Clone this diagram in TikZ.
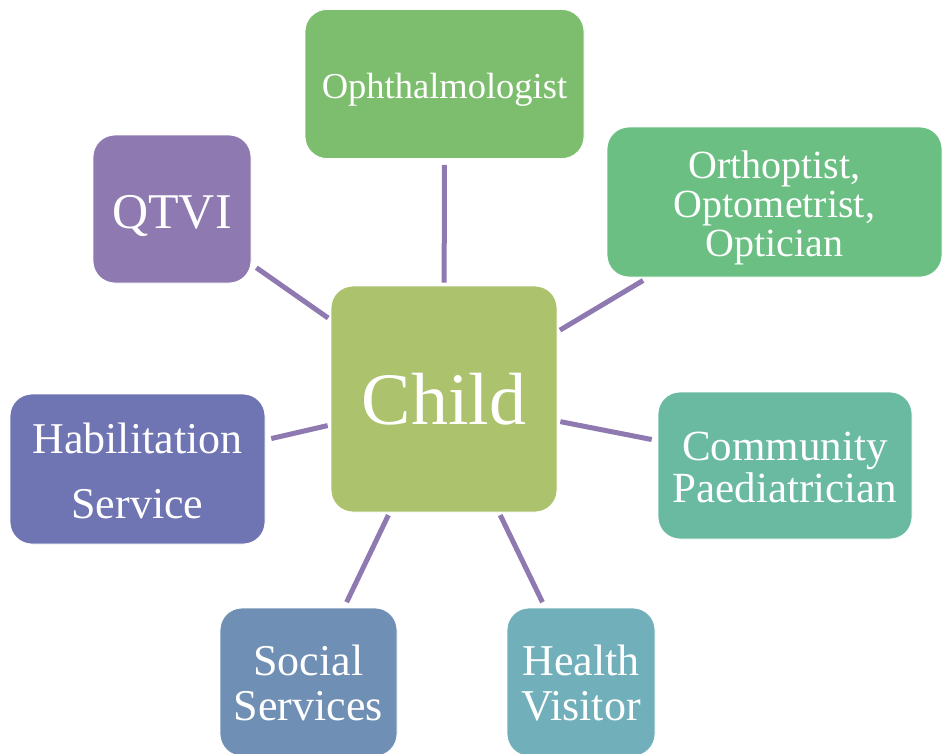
\documentclass[tikz,border=0pt]{standalone}
\usepackage{fontspec}
\setmainfont{Liberation Serif}
\definecolor{cOph}{HTML}{7DBE6E}
\definecolor{cOrt}{HTML}{6BBF82}
\definecolor{cQtv}{HTML}{8E79B1}
\definecolor{cChi}{HTML}{ACC26C}
\definecolor{cHab}{HTML}{6F74B2}
\definecolor{cCom}{HTML}{6ABAA2}
\definecolor{cSoc}{HTML}{708FB4}
\definecolor{cHea}{HTML}{71AFBA}
\definecolor{cLine}{HTML}{8E79B1}
\newcommand{\lowerby}[2]{\raisebox{-#1}[\height][\depth]{\begin{tabular}{@{}c@{}}#2\end{tabular}}}
\begin{document}
\begin{tikzpicture}[x=1pt,y=-1pt,
  box/.style={rounded corners=22pt, draw=white, line width=0.8pt, text=white,
    inner sep=0pt},
  link/.style={draw=cLine, line width=5pt, shorten <=3pt, shorten >=6pt}]
\useasboundingbox (0,0) rectangle (943,753);
\begin{scope}
\clip (0,0) rectangle (943,753);
\node[box, fill=cChi, minimum width=226pt, minimum height=226pt,
  font=\fontsize{74}{80}\selectfont] (child) at (444,399) {\lowerby{9pt}{Child}};
\node[box, fill=cOph, minimum width=279pt, minimum height=149pt,
  font=\fontsize{36.5}{40}\selectfont] (oph) at (444.5,84) {\lowerby{6pt}{Ophthalmologist}};
\node[box, fill=cOrt, minimum width=335pt, minimum height=150pt,
  font=\fontsize{40}{39}\selectfont] (ort) at (774.5,202) {\lowerby{7pt}{Orthoptist,\\Optometrist,\\Optician}};
\node[box, fill=cQtv, minimum width=158pt, minimum height=148pt,
  font=\fontsize{50}{55}\selectfont] (qtvi) at (172,209) {\lowerby{8pt}{QTVI}};
\node[box, fill=cHab, minimum width=255pt, minimum height=150pt,
  font=\fontsize{44}{65}\selectfont] (hab) at (137.5,469) {\lowerby{3.5pt}{Habilitation\\Service}};
\node[box, fill=cCom, minimum width=254pt, minimum height=147pt,
  font=\fontsize{43}{41}\selectfont] (com) at (785,465.5) {\lowerby{8pt}{Community\\Paediatrician}};
\node[box, fill=cSoc, minimum width=177pt, minimum height=148pt,
  font=\fontsize{44}{45}\selectfont] (soc) at (308.5,682) {\lowerby{7pt}{Social\\Services}};
\node[box, fill=cHea, minimum width=148pt, minimum height=148pt,
  font=\fontsize{44}{45}\selectfont] (hea) at (581,682) {\lowerby{7pt}{Health\\Visitor}};
\end{scope}
\draw[link] (child) -- (oph);
\draw[link] (child) -- (ort);
\draw[link] (child) -- (qtvi);
\draw[link] (child) -- (hab);
\draw[link] (child) -- (com);
\draw[link] (child) -- (soc);
\draw[link] (child) -- (hea);
\end{tikzpicture}
\end{document}
